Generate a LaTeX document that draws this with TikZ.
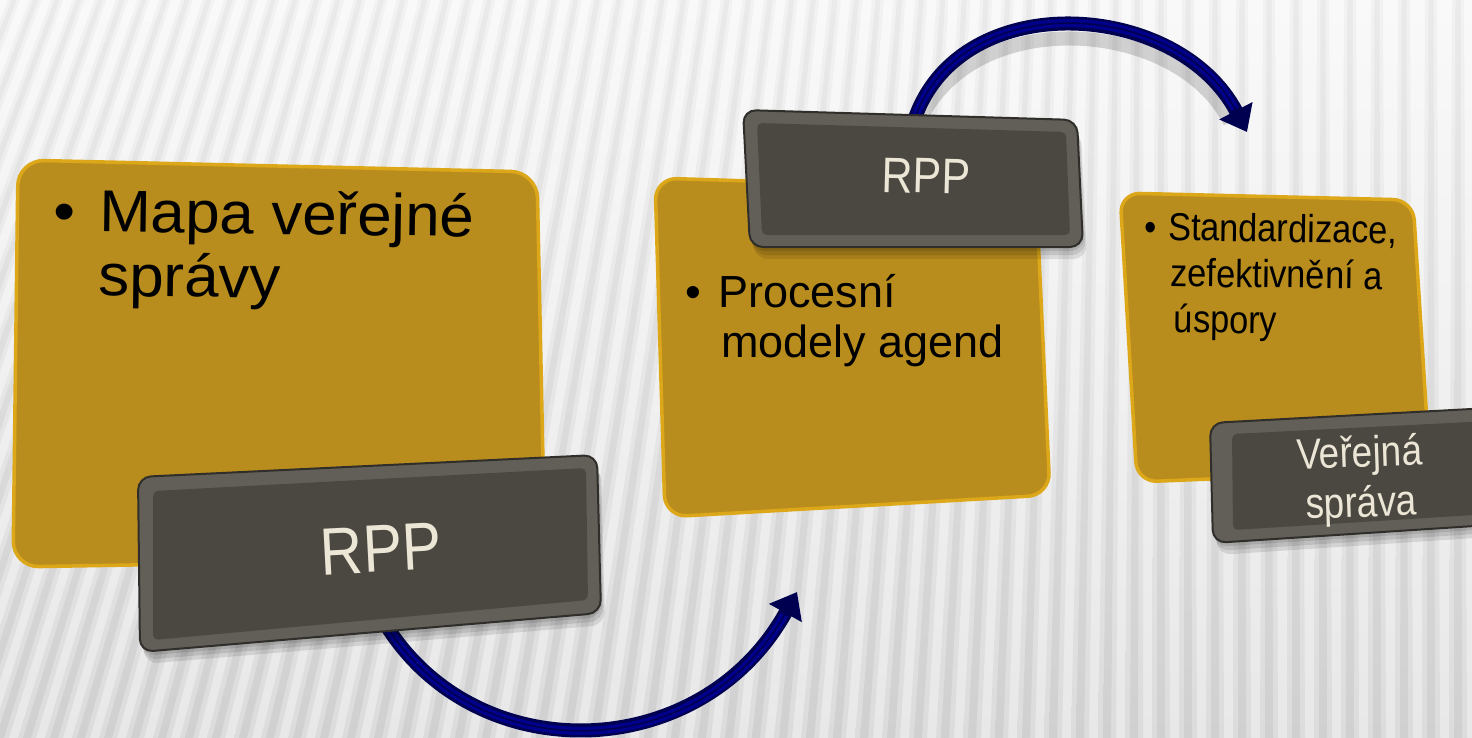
\documentclass[tikz,border=0pt]{standalone}
\usepackage{fontspec}
\setmainfont{Liberation Sans}
\newfontfamily\condA[FakeStretch=0.88]{Liberation Sans}
\newfontfamily\condB[FakeStretch=0.86]{Liberation Sans}
\newfontfamily\wideA[FakeStretch=1.05]{Liberation Sans}
\usetikzlibrary{arrows.meta}
\definecolor{goldfill}{HTML}{B98D1D}
\definecolor{goldedge}{HTML}{DCA718}
\definecolor{darkrim}{HTML}{625F58}
\definecolor{darkface}{HTML}{4B4842}
\definecolor{darkedge}{HTML}{302E2A}
\definecolor{cream}{HTML}{ECE6D6}
\definecolor{navyA}{HTML}{000050}
\definecolor{navyB}{HTML}{00008C}
\definecolor{bgT}{HTML}{F9F9F9}
\definecolor{bgB}{HTML}{E8E8E8}
\definecolor{stwT}{HTML}{F2F2F2}
\definecolor{stwB}{HTML}{DCDCDC}
\definecolor{stnT}{HTML}{EAEAEA}
\definecolor{stnB}{HTML}{D0D0D0}
\tikzset{
  goldbox/.style={fill=goldfill, draw=goldedge, line width=3.5pt, rounded corners=26pt},
  rimbox/.style={fill=darkrim, draw=darkedge, line width=2pt, rounded corners=13pt},
  facebox/.style={fill=darkface, rounded corners=5pt},
  boxshadow/.style={fill=black, opacity=0.10, rounded corners=14pt},
  bodytext/.style={inner sep=0pt, text=black},
  labeltext/.style={inner sep=0pt, text=cream},
  arrowouter/.style={draw=navyA, line width=14pt, -{Triangle[length=24pt,width=36pt]}},
  arrowinner/.style={draw=navyB, line width=8pt},
  arrowline/.style={draw=navyA, line width=1.6pt},
  arrowshadow/.style={draw=black, opacity=0.16, line width=14pt}
}
\begin{document}
\begin{tikzpicture}[x=1pt,y=-1pt]
\useasboundingbox (0,0) rectangle (1472,738);
% background
\shade[top color=bgT, bottom color=bgB] (0,0) rectangle (1472,738);
\begin{scope}
\clip (0,0) rectangle (1472,738);
\foreach \i in {-10,...,56}{
  \pgfmathsetmacro{\xb}{\i*27}
  \pgfmathsetmacro{\s}{max(0,230*(1-\xb/1150))}
  \pgfmathsetmacro{\xt}{\xb+\s}
  \shade[top color=stwT, bottom color=stwB] (\xb-9,738) -- (\xb+9,738) -- (\xt+6,0) -- (\xt-6,0) -- cycle;
  \shade[top color=stnT, bottom color=stnB] (\xb-4,738) -- (\xb+4,738) -- (\xt+2.5,0) -- (\xt-2.5,0) -- cycle;
}
\end{scope}

% gold boxes
\draw[goldbox] (18,160) -- (537,172) -- (545,558) -- (13,567) -- cycle;
\draw[goldbox, rounded corners=22pt] (655,178) -- (1036,190) -- (1050,495) -- (665,517) -- cycle;
\draw[goldbox, rounded corners=20pt] (1120,193) -- (1413,200) -- (1430,470) -- (1137,482) -- cycle;

% texts in gold boxes
\node[bodytext, anchor=base west, rotate=-0.8] (t1) at (53,231)
  {\parbox[t]{480pt}{\fontsize{59pt}{64pt}\wideA\makebox[46pt][l]{•}Mapa veřejné\\\hspace*{46pt}správy}};
\node[bodytext, anchor=base west] (t2) at (685,307)
  {\parbox[t]{360pt}{\fontsize{45pt}{50pt}\selectfont\makebox[33pt][l]{•}Procesní\\\hspace*{36pt}modely agend}};
\node[bodytext, anchor=base west, rotate=-0.8] (t3) at (1144,240)
  {\parbox[t]{280pt}{\fontsize{39pt}{46pt}\condA\makebox[24pt][l]{•}Standardizace,\\\hspace*{27pt}zefektivnění a\\\hspace*{31pt}úspory}};

% arrows
\coordinate (a1s) at (380,615);
\coordinate (a1e) at (797,592);
\coordinate (a2s) at (915,118);
\coordinate (a2e) at (1247,132);
\draw[arrowshadow, transform canvas={yshift=-14pt}] (a2s) .. controls (962,-12) and (1178,2) .. (1230,108);
\draw[arrowouter] (a1s) .. controls (468,772) and (700,767) .. (a1e);
\draw[arrowinner, shorten >=26pt] (a1s) .. controls (468,772) and (700,767) .. (a1e);
\draw[arrowline, shorten >=26pt] (a1s) .. controls (468,772) and (700,767) .. (a1e);
\draw[arrowouter] (a2s) .. controls (962,-14) and (1178,0) .. (a2e);
\draw[arrowinner, shorten >=26pt] (a2s) .. controls (962,-14) and (1178,0) .. (a2e);
\draw[arrowline, shorten >=26pt] (a2s) .. controls (962,-14) and (1178,0) .. (a2e);

% dark box 1
\foreach \d in {4,8,12}{
  \fill[boxshadow] (138+\d/3,477+\d) -- (597+\d/3,455+\d) -- (601+\d/3,613+\d) -- (140+\d/3,652+\d) -- cycle;
}
\draw[rimbox] (138,477) -- (597,455) -- (601,613) -- (140,652) -- cycle;
\fill[facebox] (153,491) -- (586,468) -- (588,600) -- (153,640) -- cycle;
\node[labeltext, rotate=3] (rpp1) at (381,549) {\fontsize{67pt}{67pt}\condA RPP};

% dark box 2
\foreach \d in {4,8,12}{
  \fill[boxshadow] (743+\d/3,110+\d) -- (1077+\d/3,120+\d) -- (1083+\d/3,247+\d) -- (750+\d/3,247+\d) -- cycle;
}
\draw[rimbox] (743,110) -- (1077,120) -- (1083,247) -- (750,247) -- cycle;
\fill[facebox] (757,123) -- (1066,132) -- (1070,235) -- (762,235) -- cycle;
\node[labeltext, rotate=-1.5] (rpp2) at (926,176) {\fontsize{50pt}{50pt}\condB RPP};

% dark box 3
\foreach \d in {4,8,12}{
  \fill[boxshadow] (1210+\d/3,423+\d) -- (1490,408+\d) -- (1490,525+\d) -- (1213+\d/3,543+\d) -- cycle;
}
\draw[rimbox] (1210,423) -- (1490,408) -- (1490,525) -- (1213,543) -- cycle;
\fill[facebox] (1232,434) -- (1490,421) -- (1490,514) -- (1233,530) -- cycle;
\node[labeltext, anchor=base, rotate=2] (vs) at (1360,467)
  {\parbox[t]{220pt}{\centering\fontsize{43pt}{50pt}\condB Veřejná\\správa}};
\end{tikzpicture}
\end{document}
